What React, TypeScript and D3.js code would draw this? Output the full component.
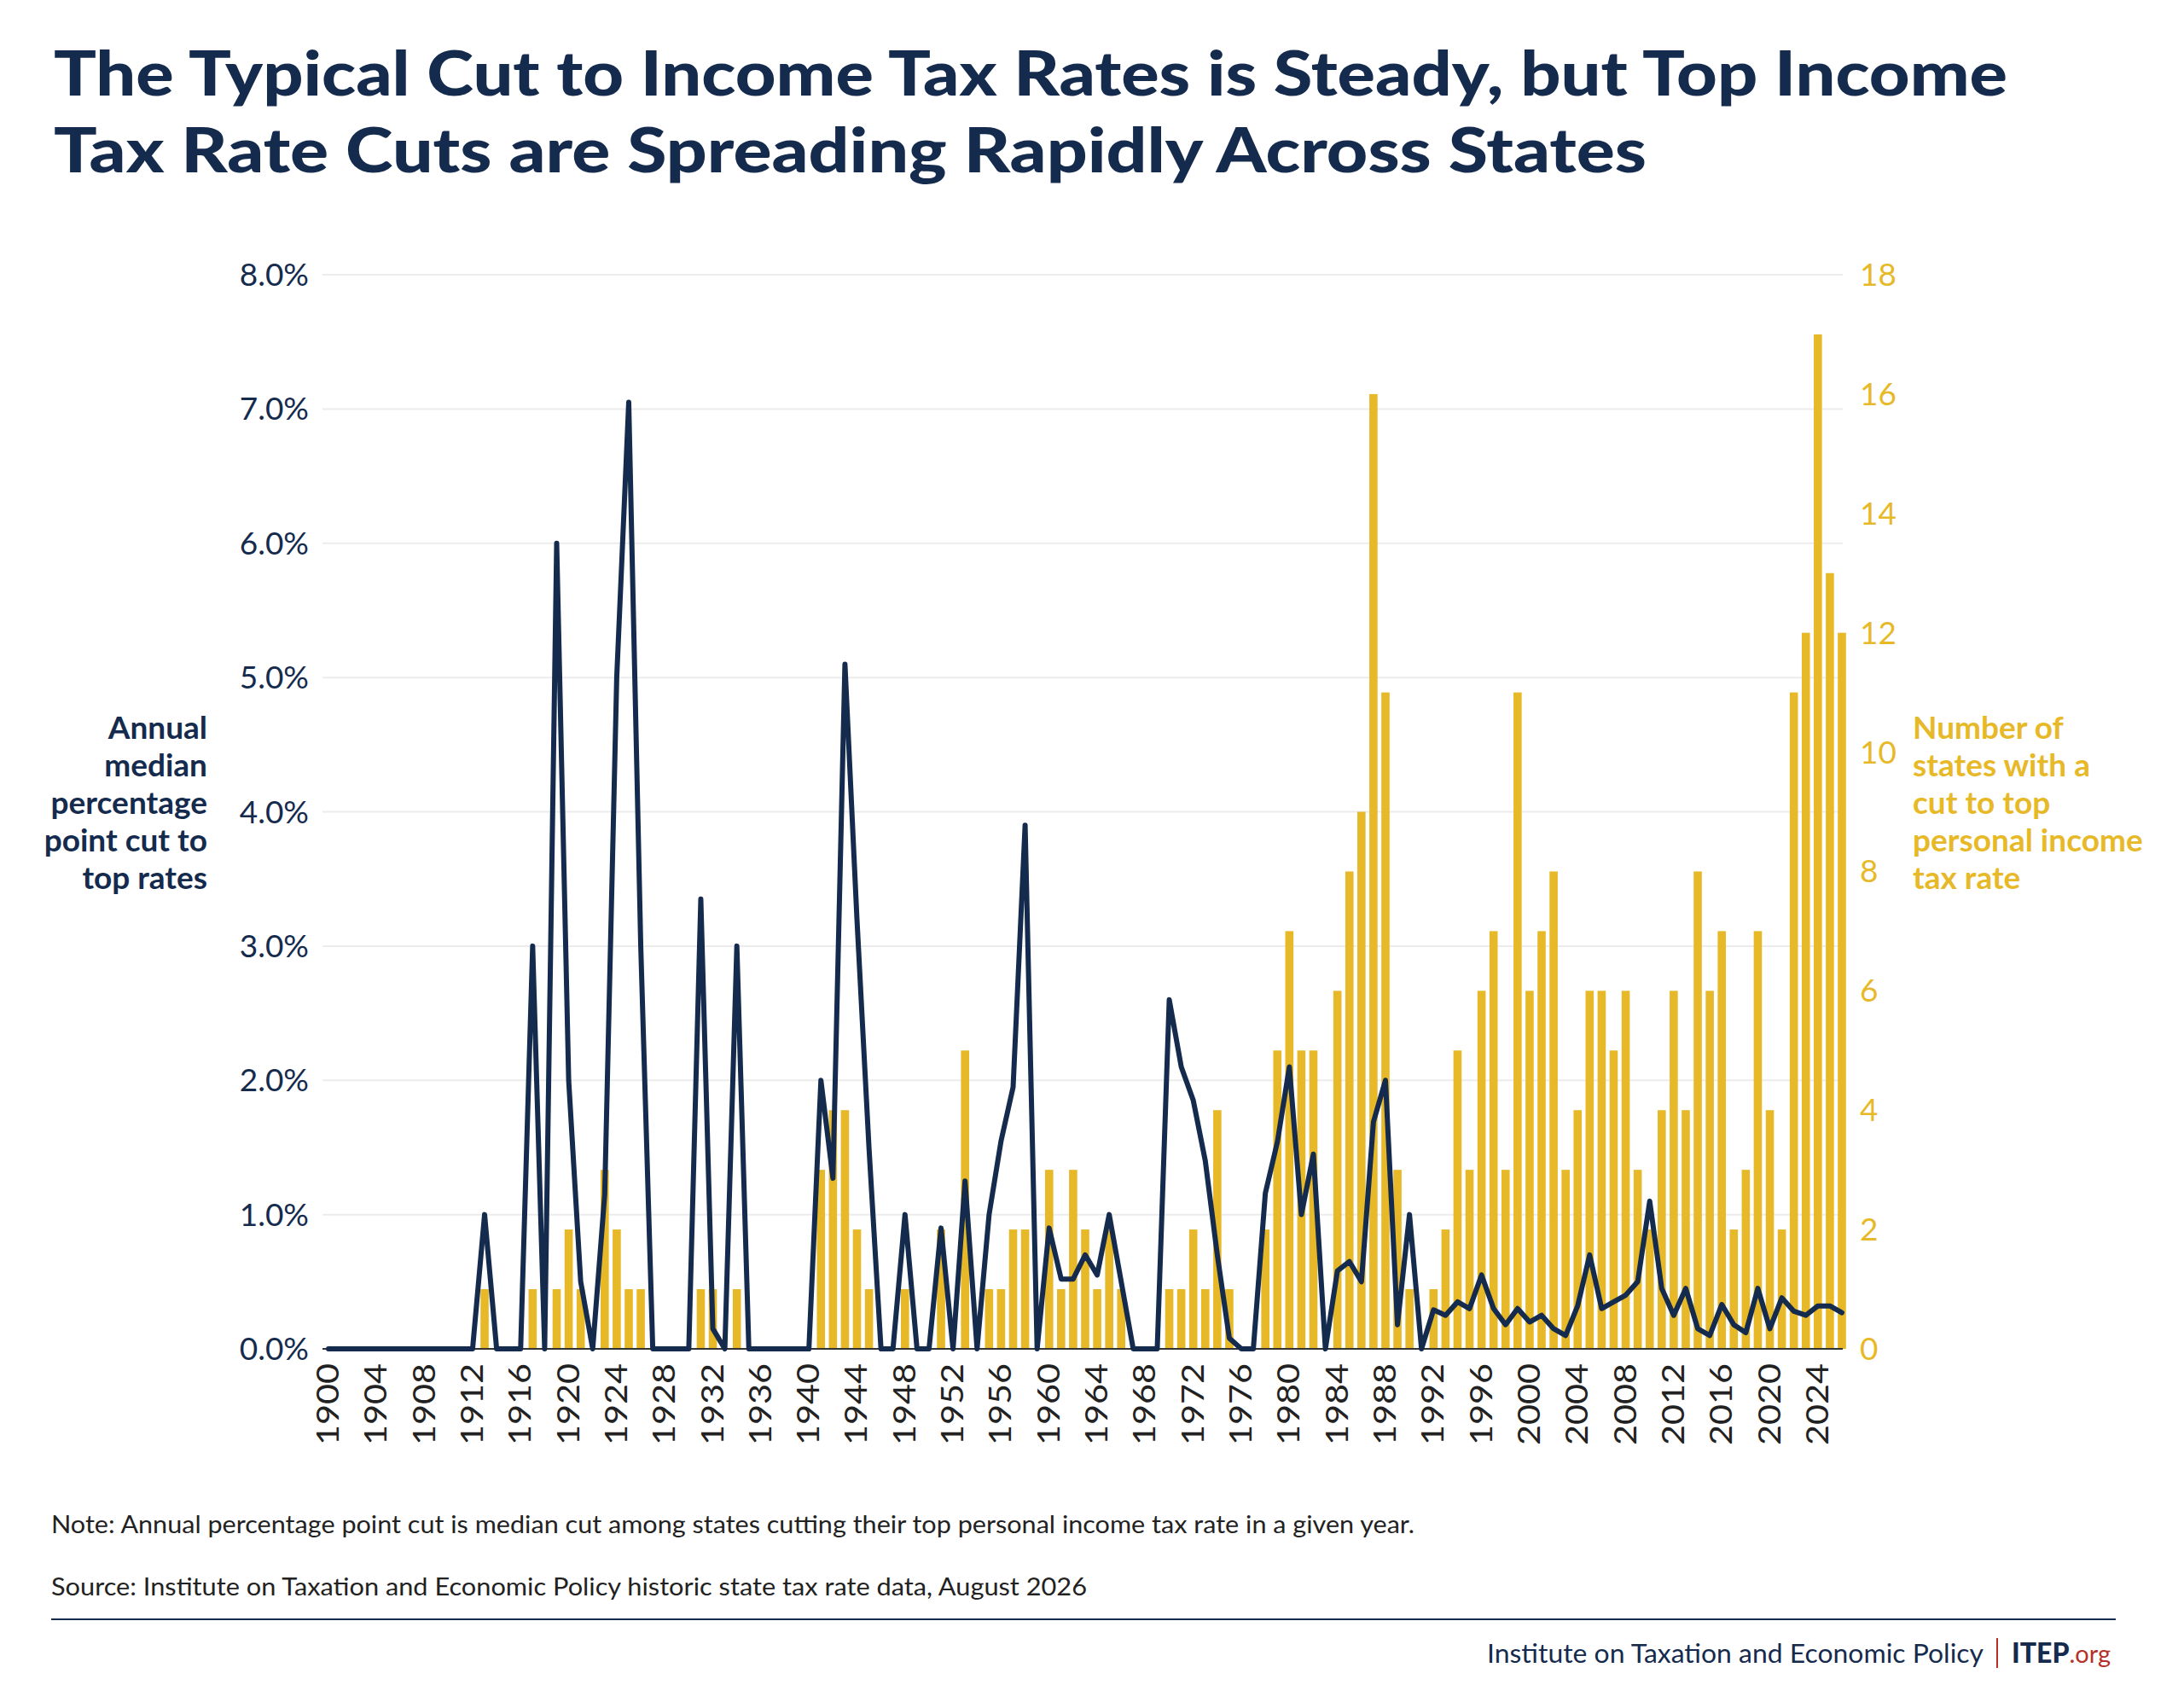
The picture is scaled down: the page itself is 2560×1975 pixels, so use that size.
import React from "react";
import * as d3 from "d3";

const startYear = 1900;
const medianCut = [
  0,0,0,0,0,0,0,0,0,0, 0,0,0,1.0,0,0,0,3.0,0,6.0,
  2.0,0.5,0,1.15,5.0,7.05,3.0,0,0,0, 0,3.35,0.15,0,3.0,0,0,0,0,0,
  0,2.0,1.27,5.1,3.2,1.5,0,0,1.0,0, 0,0.9,0,1.25,0,1.0,1.55,1.95,3.9,0,
  0.9,0.52,0.52,0.7,0.55,1.0,0.5,0,0,0, 2.6,2.1,1.85,1.4,0.7,0.08,0,0,1.16,1.54,
  2.1,1.0,1.45,0,0.58,0.65,0.5,1.69,2.0,0.18, 1.0,0,0.29,0.25,0.35,0.3,0.55,0.3,0.18,0.3,
  0.2,0.25,0.15,0.1,0.32,0.7,0.3,0.35,0.4,0.5, 1.1,0.45,0.25,0.45,0.15,0.1,0.33,0.18,0.12,0.45,
  0.15,0.38,0.28,0.25,0.32,0.32,0.27,
];
const stateCount = [
  0,0,0,0,0,0,0,0,0,0, 0,0,0,1,0,0,0,1,0,1,
  2,1,0,3,2,1,1,0,0,0, 0,1,1,0,1,0,0,0,0,0,
  0,3,4,4,2,1,0,0,1,0, 0,2,0,5,0,1,1,2,2,0,
  3,1,3,2,1,2,1,0,0,0, 1,1,2,1,4,1,0,0,2,5,
  7,5,5,0,6,8,9,16,11,3, 1,0,1,2,5,3,6,7,3,11,
  6,7,8,3,4,6,6,5,6,3, 2,4,6,4,8,6,7,2,3,7,
  4,2,11,12,17,13,12,
];
const leftTicks = [0,1,2,3,4,5,6,7,8];
const rightTicks = [0,2,4,6,8,10,12,14,16,18];
const leftTitle = ["Annual","median","percentage","point cut to","top rates"];
const rightTitle = ["Number of","states with a","cut to top","personal income","tax rate"];

const NAVY = "#152b4e";
const GOLD = "#e7b928";
const FONT = "Lato, 'Open Sans', sans-serif";

export default function App() {
  const years = medianCut.map((_, i) => startYear + i);
  const x = d3.scaleLinear().domain([1900, 2026]).range([385, 2159]);
  const yL = d3.scaleLinear().domain([0, 8]).range([1581, 322]);
  const yR = d3.scaleLinear().domain([0, 18]).range([1581, 322]);
  const bw = 9.6;
  const line = d3.line<number>().x((_, i) => x(years[i])).y(d => yL(d));
  const xTicks = years.filter(y => (y - 1900) % 4 === 0);
  const lineYs = [866, 910, 954, 998, 1042];
  return (
    <svg width={2560} height={1975} style={{ position: "absolute", left: 0, top: 0, background: "#fff" }} fontFamily={FONT}>
      <text x={63} y={112} fontSize={72} fontWeight={900} fill={NAVY} textLength={2290} lengthAdjust="spacingAndGlyphs">The Typical Cut to Income Tax Rates is Steady, but Top Income</text>
      <text x={63} y={202} fontSize={72} fontWeight={900} fill={NAVY} textLength={1867} lengthAdjust="spacingAndGlyphs">Tax Rate Cuts are Spreading Rapidly Across States</text>
      {leftTicks.map(t => (
        <g key={t}>
          <line x1={378} x2={2160} y1={yL(t)} y2={yL(t)} stroke="#ececec" strokeWidth={2} />
          <text x={362} y={yL(t) + 13} textAnchor="end" fontSize={37} fill={NAVY}>{t.toFixed(1)}%</text>
        </g>
      ))}
      {rightTicks.map(t => (
        <text key={t} x={2180} y={yR(t) + 13} fontSize={37} fill={GOLD}>{t}</text>
      ))}
      {stateCount.map((c, i) => c > 0 && (
        <rect key={i} x={x(years[i]) - bw / 2} y={yR(c)} width={bw} height={yR(0) - yR(c)} fill={GOLD} />
      ))}
      <line x1={378} x2={2160} y1={1581} y2={1581} stroke="#333" strokeWidth={2} />
      <path d={line(medianCut) || ""} fill="none" stroke={NAVY} strokeWidth={6} strokeLinejoin="round" strokeLinecap="round" />
      {xTicks.map(t => (
        <text key={t} transform={`translate(${x(t) + 12},1598) rotate(-90)`} textAnchor="end" fontSize={36} fill="#222" textLength={96} lengthAdjust="spacingAndGlyphs">{t}</text>
      ))}
      {leftTitle.map((s, i) => (
        <text key={s} x={243} y={lineYs[i]} textAnchor="end" fontSize={37} fontWeight={700} fill={NAVY}>{s}</text>
      ))}
      {rightTitle.map((s, i) => (
        <text key={s} x={2242} y={lineYs[i]} fontSize={37} fontWeight={700} fill={GOLD}>{s}</text>
      ))}
      <text x={60} y={1797} fontSize={28} fill="#222" textLength={1598} lengthAdjust="spacingAndGlyphs">Note: Annual percentage point cut is median cut among states cutting their top personal income tax rate in a given year.</text>
      <text x={60} y={1870} fontSize={28} fill="#222" textLength={1214} lengthAdjust="spacingAndGlyphs">Source: Institute on Taxation and Economic Policy historic state tax rate data, August 2026</text>
      <line x1={60} x2={2480} y1={1898} y2={1898} stroke={NAVY} strokeWidth={2} />
      <text x={2325} y={1949} textAnchor="end" fontSize={30} fill={NAVY} textLength={582} lengthAdjust="spacingAndGlyphs">Institute on Taxation and Economic Policy</text>
      <line x1={2341} x2={2341} y1={1920} y2={1955} stroke="#b5302a" strokeWidth={2} />
      <text x={2358} y={1949} fontSize={32} fontWeight={900} fill={NAVY}>ITEP<tspan fill="#b5302a" fontWeight={400} fontSize={29}>.org</tspan></text>
    </svg>
  );
}
